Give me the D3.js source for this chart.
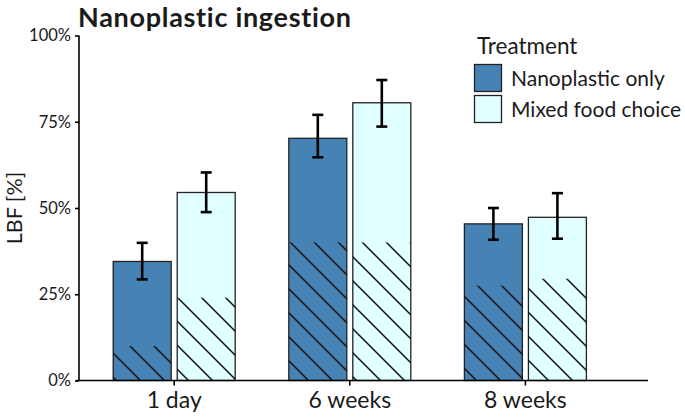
<!DOCTYPE html>
<html>
<head>
<meta charset="utf-8">
<script src="https://cdn.jsdelivr.net/npm/d3@7"></script>
<style>
  html, body { margin: 0; padding: 0; background: #fff; }
  svg { display: block; }
  text { font-family: Lato, "Open Sans", sans-serif; fill: #1a1a1a; }
</style>
</head>
<body>
<svg id="chart" width="685" height="418"></svg>
<script>
const categories = ["1 day", "6 weeks", "8 weeks"];
const series = ["Nanoplastic only", "Mixed food choice"];
const seriesColors = ["#4682B4", "#E0FFFF"];
const meanNano = [34.5, 70.2, 45.4];
const lowNano = [29.3, 64.7, 40.8];
const highNano = [39.9, 77.0, 50.0];
const hatchNano = [10, 40, 27.5];
const meanMixed = [54.5, 80.5, 47.3];
const lowMixed = [48.8, 73.6, 41.1];
const highMixed = [60.3, 87.1, 54.3];
const hatchMixed = [24, 40, 29.5];
const yTicks = [0, 25, 50, 75, 100];
const title = "Nanoplastic ingestion";
const yLabel = "LBF [%]";
const legendTitle = "Treatment";

const svg = d3.select("#chart");

const y = d3.scaleLinear().domain([0, 100]).range([380.5, 35.5]);
const x = d3.scaleBand().domain(categories).range([86.4, 613.2]).padding(0);
const xSub = d3.scaleBand().domain(series).range([-61, 61]).paddingInner(0.094);

const rows = [];
categories.forEach((c, i) => {
  rows.push({cat: c, s: series[0], color: seriesColors[0], mean: meanNano[i], lo: lowNano[i], hi: highNano[i], hatch: hatchNano[i]});
  rows.push({cat: c, s: series[1], color: seriesColors[1], mean: meanMixed[i], lo: lowMixed[i], hi: highMixed[i], hatch: hatchMixed[i]});
});

// hatch pattern
const defs = svg.append("defs");
const pat = defs.append("pattern")
  .attr("id", "hatch")
  .attr("patternUnits", "userSpaceOnUse")
  .attr("width", 24).attr("height", 24);
pat.append("path")
  .attr("d", "M-6,-6 L30,30 M-6,18 L6,30 M18,-6 L30,6")
  .attr("stroke", "#111").attr("stroke-width", 1.5).attr("fill", "none");

const cx = d => x(d.cat) + x.bandwidth() / 2;
const bx = d => cx(d) + xSub(d.s);
const bw = xSub.bandwidth();

// bars
svg.append("g").selectAll("rect").data(rows).join("rect")
  .attr("x", bx)
  .attr("y", d => y(d.mean))
  .attr("width", bw)
  .attr("height", d => y(0) - y(d.mean))
  .attr("fill", d => d.color)
  .attr("stroke", "#222")
  .attr("stroke-width", 1.3);

// hatched portion
svg.append("g").selectAll("rect").data(rows).join("rect")
  .attr("x", bx)
  .attr("y", d => y(d.hatch))
  .attr("width", bw)
  .attr("height", d => y(0) - y(d.hatch))
  .attr("fill", "url(#hatch)")
  .attr("stroke", "none");

// error bars
const eb = svg.append("g").attr("stroke", "#000").attr("stroke-width", 2.6).attr("fill", "none");
eb.selectAll("line.v").data(rows).join("line").attr("class", "v")
  .attr("x1", d => bx(d) + bw / 2).attr("x2", d => bx(d) + bw / 2)
  .attr("y1", d => y(d.lo)).attr("y2", d => y(d.hi));
eb.selectAll("line.t").data(rows).join("line").attr("class", "t")
  .attr("x1", d => bx(d) + bw / 2 - 5.5).attr("x2", d => bx(d) + bw / 2 + 5.5)
  .attr("y1", d => y(d.hi)).attr("y2", d => y(d.hi));
eb.selectAll("line.b").data(rows).join("line").attr("class", "b")
  .attr("x1", d => bx(d) + bw / 2 - 5.5).attr("x2", d => bx(d) + bw / 2 + 5.5)
  .attr("y1", d => y(d.lo)).attr("y2", d => y(d.lo));

// y axis
const yAxis = d3.axisLeft(y).tickValues(yTicks).tickFormat(d => d + "%").tickSize(4).tickPadding(4);
const gy = svg.append("g").attr("transform", "translate(79,0)").call(yAxis);
gy.select(".domain").attr("d", `M0,${y(100)}V${y(0)}`).attr("stroke", "#000").attr("stroke-width", 1.6);
gy.selectAll(".tick line").attr("stroke", "#000").attr("stroke-width", 1.6);
gy.selectAll(".tick text").attr("font-size", 16.5).attr("font-family", "Lato, sans-serif").attr("fill", "#1a1a1a");

// x axis
const xAxis = d3.axisBottom(x).tickSize(5).tickPadding(6);
const gx = svg.append("g").attr("transform", `translate(0,${y(0)})`).call(xAxis);
gx.select(".domain").attr("d", "M76,0H648").attr("stroke", "#000").attr("stroke-width", 1.6);
gx.selectAll(".tick line").attr("stroke", "#000").attr("stroke-width", 1.6);
gx.selectAll(".tick text").attr("font-size", 23).attr("font-family", "Lato, sans-serif").attr("fill", "#1a1a1a");

// title
svg.append("text").attr("x", 78).attr("y", 27)
  .attr("font-size", 27).attr("font-weight", "bold")
  .attr("letter-spacing", 0.7).text(title);

// y label
svg.append("text")
  .attr("transform", `translate(22,${y(50)}) rotate(-90)`)
  .attr("text-anchor", "middle")
  .attr("font-size", 21.5).text(yLabel);

// legend
const lg = svg.append("g");
lg.append("text").attr("x", 477).attr("y", 54).attr("font-size", 22.5).text(legendTitle);
series.forEach((s, i) => {
  lg.append("rect").attr("x", 474.5).attr("y", 64.5 + i * 31).attr("width", 27).attr("height", 27)
    .attr("fill", seriesColors[i]).attr("stroke", "#222").attr("stroke-width", 1.3);
  lg.append("text").attr("x", 511).attr("y", 85.5 + i * 31).attr("font-size", 21).text(s);
});
</script>
</body>
</html>
